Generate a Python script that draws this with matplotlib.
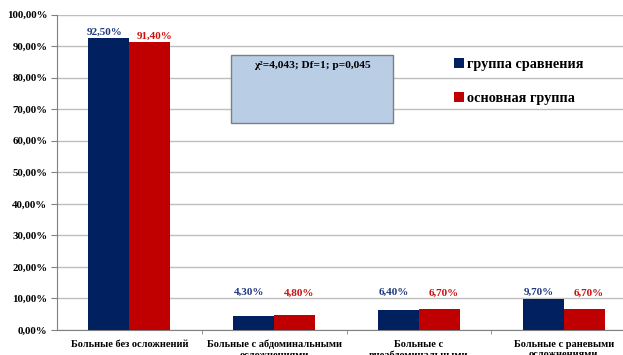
import matplotlib.pyplot as plt
from matplotlib.patches import Rectangle
import numpy as np

categories = ["Больные без осложнений",
              "Больные с абдоминальными\nосложнениями",
              "Больные с\nвнеабдоминальными\nосложнениями",
              "Больные с раневыми\nосложнениями"]
series_names = ["группа сравнения", "основная группа"]
comparison = [92.5, 4.3, 6.4, 9.7]
main_group = [91.4, 4.8, 6.7, 6.7]
stat_text = "χ²=4,043; Df=1; p=0,045"

plt.rcParams['font.family'] = ['Liberation Serif', 'DejaVu Serif']
plt.rcParams['font.weight'] = 'bold'

dark = "#002060"
red = "#C00000"
dark_txt = "#1F3A80"
red_txt = "#CC1010"

fig = plt.figure(figsize=(6.23, 3.55), dpi=100)
ax = fig.add_axes([57 / 623, 25 / 355, 579 / 623, 315.5 / 355])

x = np.arange(len(categories))
w = 0.283
b1 = ax.bar(x - w / 2, comparison, w, color=dark, zorder=3, label=series_names[0])
b2 = ax.bar(x + w / 2, main_group, w, color=red, zorder=3, label=series_names[1])

# value labels (small ones sit at a fixed height like in the original)
for xi, v in zip(x - w / 2, comparison):
    ax.text(xi - 0.03, max(v + 2.0, 12.0), f"{v:.2f}%".replace('.', ','),
            ha='center', va='center', fontsize=8, color=dark_txt, fontweight='bold')
for xi, v in zip(x + w / 2, main_group):
    ax.text(xi + 0.03, max(v + 1.8, 11.5), f"{v:.2f}%".replace('.', ','),
            ha='center', va='center', fontsize=8, color=red_txt, fontweight='bold')

ax.set_xlim(-0.5, 3.5)
ax.set_ylim(0, 100)
yt = np.arange(0, 101, 10)
ax.set_yticks(yt)
ax.set_yticklabels([f"{v:.2f}%".replace('.', ',') for v in yt], fontsize=7.8, fontweight='bold')
ax.grid(axis='y', color='#BEBEBE', linewidth=1, zorder=0)
ax.tick_params(axis='y', length=4, color='#808080', pad=3)

ax.set_xticks(x)
ax.set_xticklabels(categories, fontsize=7.5, fontweight='bold', linespacing=1.2)
ax.tick_params(axis='x', which='major', length=0, pad=7)
ax.set_xticks([0.5, 1.5, 2.5, 3.5], minor=True)
ax.tick_params(axis='x', which='minor', length=3, color='#808080')

for s in ['top', 'right']:
    ax.spines[s].set_visible(False)
for s in ['left', 'bottom']:
    ax.spines[s].set_color('#808080')

# statistics box
box = Rectangle((231 / 623, 1 - 123 / 355), 162 / 623, 68 / 355, transform=fig.transFigure,
                facecolor='#B9CDE5', edgecolor='#7F7F7F', linewidth=1, zorder=5)
fig.patches.append(box)
fig.text(312 / 623, 1 - 66 / 355, stat_text, ha='center', va='center',
         fontsize=8.2, fontweight='bold', zorder=6)

fig.legend(handles=[b1, b2], labels=series_names, loc='upper left',
           bbox_to_anchor=(441 / 623, 1 - 45 / 355), frameon=False,
           handlelength=0.7, handleheight=0.7, handletextpad=0.2,
           labelspacing=1.45, prop={'weight': 'bold', 'size': 10.3})

fig.savefig("out.png", dpi=100)
